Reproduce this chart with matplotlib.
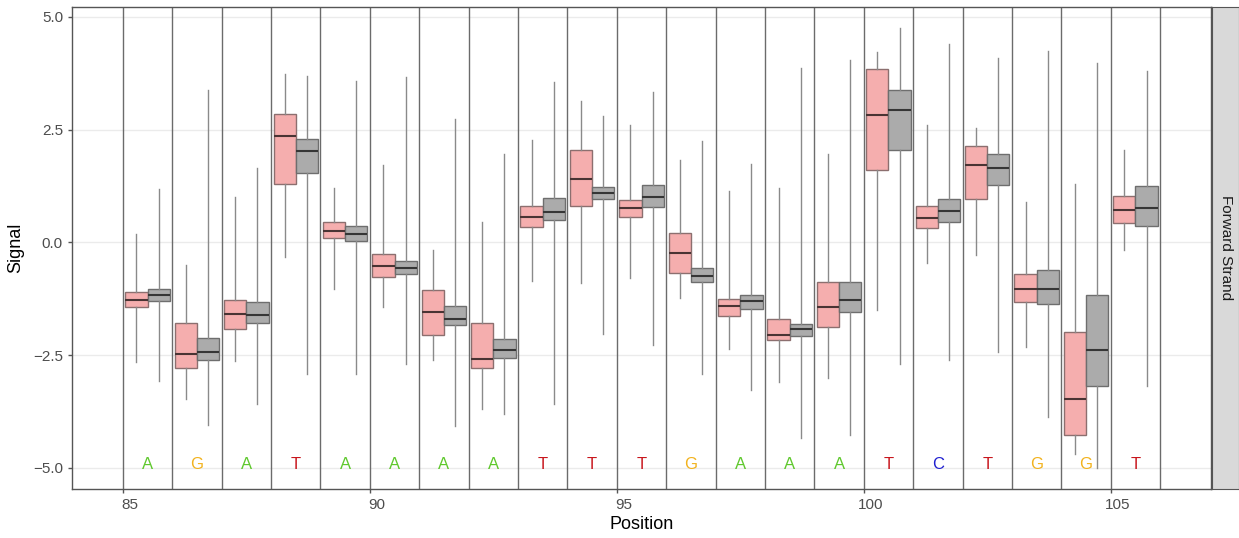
import matplotlib
matplotlib.use("Agg")
import matplotlib.pyplot as plt
import matplotlib.transforms as mtransforms

plt.rcParams['font.family'] = ['Liberation Sans', 'DejaVu Sans']

# positions and reference bases
positions = list(range(85, 106))
bases = ['A', 'G', 'A', 'T', 'A', 'A', 'A', 'A', 'T', 'T', 'T',
         'G', 'A', 'A', 'A', 'T', 'C', 'T', 'G', 'G', 'T']
base_colors = {'A': '#5FC82D', 'G': '#F2B21C', 'T': '#C8161D', 'C': '#1F1FD0'}

# pink group: whisker low, q1, median, q3, whisker high
pink_lo = [-2.65, -3.47, -2.64, -0.32, -1.04, -1.44, -2.61, -3.69, -0.86, -0.91, -0.80,
           -1.24, -2.36, -3.10, -3.01, -1.49, -0.45, -0.28, -2.33, -4.70, -0.16]
pink_q1 = [-1.43, -2.78, -1.92, 1.29, 0.10, -0.77, -2.06, -2.78, 0.33, 0.81, 0.57,
           -0.69, -1.63, -2.17, -1.88, 1.60, 0.32, 0.96, -1.33, -4.27, 0.42]
pink_med = [-1.27, -2.48, -1.59, 2.37, 0.26, -0.53, -1.55, -2.58, 0.56, 1.41, 0.76,
            -0.23, -1.41, -2.05, -1.44, 2.83, 0.53, 1.71, -1.04, -3.47, 0.71]
pink_q3 = [-1.11, -1.78, -1.27, 2.84, 0.46, -0.25, -1.06, -1.79, 0.81, 2.04, 0.93,
           0.20, -1.26, -1.70, -0.87, 3.84, 0.80, 2.13, -0.71, -1.98, 1.03]
pink_hi = [0.18, -0.51, 1.00, 3.73, 1.21, 1.72, -0.16, 0.45, 2.27, 3.13, 2.61,
           1.83, 1.13, 1.21, 1.95, 4.23, 2.61, 2.53, 0.90, 1.30, 2.04]

# gray group
gray_lo = [-3.07, -4.06, -3.58, -2.93, -2.91, -2.70, -4.08, -3.80, -3.59, -2.03, -2.27,
           -2.93, -3.27, -4.33, -4.27, -2.70, -2.62, -2.43, -3.87, -5.01, -3.18]
gray_q1 = [-1.29, -2.60, -1.78, 1.54, 0.04, -0.70, -1.84, -2.56, 0.49, 0.96, 0.79,
           -0.89, -1.47, -2.07, -1.55, 2.04, 0.46, 1.28, -1.36, -3.18, 0.37]
gray_med = [-1.16, -2.43, -1.60, 2.02, 0.19, -0.56, -1.70, -2.39, 0.67, 1.09, 1.01,
            -0.74, -1.31, -1.93, -1.27, 2.93, 0.69, 1.64, -1.04, -2.38, 0.77]
gray_q3 = [-1.04, -2.13, -1.33, 2.30, 0.36, -0.41, -1.41, -2.15, 0.98, 1.23, 1.27,
           -0.56, -1.16, -1.80, -0.88, 3.37, 0.96, 1.97, -0.62, -1.16, 1.26]
gray_hi = [1.19, 3.38, 1.64, 3.68, 3.57, 3.67, 2.73, 1.95, 3.56, 2.80, 3.34,
           2.25, 1.73, 3.87, 4.04, 4.75, 4.40, 4.09, 4.24, 3.98, 3.80]


def make_stats(lo, q1, med, q3, hi):
    return [dict(whislo=a, q1=b, med=c, q3=d, whishi=e, fliers=[])
            for a, b, c, d, e in zip(lo, q1, med, q3, hi)]


fig = plt.figure(figsize=(12.39, 5.38), dpi=100)
ax = fig.add_axes([72 / 1239, 1 - 489 / 538, (1211 - 72) / 1239, (489 - 7) / 538])

# horizontal grid
for yv in [-5, -2.5, 0, 2.5, 5]:
    ax.axhline(yv, color='#EBEBEB', lw=1.0, zorder=0)

# position separators
for p in positions + [positions[-1] + 1]:
    ax.axvline(p, color='#6B6B6B', lw=1.0, zorder=1)

whisk = dict(color='#8A8A8A', lw=1.0)
ax.bxp(make_stats(pink_lo, pink_q1, pink_med, pink_q3, pink_hi),
       positions=[p + 0.275 for p in positions], widths=0.45,
       patch_artist=True, showcaps=False, showfliers=False,
       boxprops=dict(facecolor='#F5AEAE', edgecolor='#8C6F6F', lw=1.0),
       medianprops=dict(color='#4A3434', lw=1.5),
       whiskerprops=whisk, manage_ticks=False, zorder=3)
ax.bxp(make_stats(gray_lo, gray_q1, gray_med, gray_q3, gray_hi),
       positions=[p + 0.725 for p in positions], widths=0.45,
       patch_artist=True, showcaps=False, showfliers=False,
       boxprops=dict(facecolor='#ABABAB', edgecolor='#6E6E6E', lw=1.0),
       medianprops=dict(color='#363636', lw=1.5),
       whiskerprops=whisk, manage_ticks=False, zorder=3)

for p, b in zip(positions, bases):
    ax.text(p + 0.5, -4.92, b, color=base_colors[b], fontsize=12,
            ha='center', va='center', zorder=4)

ax.set_xlim(83.97, 107.03)
ax.set_ylim(-5.47, 5.22)
ax.set_xticks([85, 90, 95, 100, 105])
ax.set_yticks([-5, -2.5, 0, 2.5, 5])
ax.set_yticklabels(['\u22125.0', '\u22122.5', '0.0', '2.5', '5.0'])
ax.tick_params(axis='both', colors='#555555', labelcolor='#4D4D4D',
               labelsize=11, length=3, width=1)
off = mtransforms.ScaledTranslation(7 / 100, 0, fig.dpi_scale_trans)
for lab in ax.get_xticklabels():
    lab.set_transform(lab.get_transform() + off)
for s in ax.spines.values():
    s.set_color('#555555')
    s.set_linewidth(1.0)

ax.set_xlabel('Position', fontsize=13, labelpad=3)
ax.set_ylabel('Signal', fontsize=13, labelpad=6)

# facet strip on the right
strip = fig.add_axes([1212 / 1239, 1 - 489 / 538, 27 / 1239, (489 - 7) / 538])
strip.set_facecolor('#D9D9D9')
strip.set_xticks([])
strip.set_yticks([])
for s in strip.spines.values():
    s.set_color('#555555')
strip.text(0.5, 0.5, 'Forward Strand', rotation=-90, ha='center', va='center',
           fontsize=11, color='#1A1A1A', transform=strip.transAxes)

fig.savefig('out.png', dpi=100)
